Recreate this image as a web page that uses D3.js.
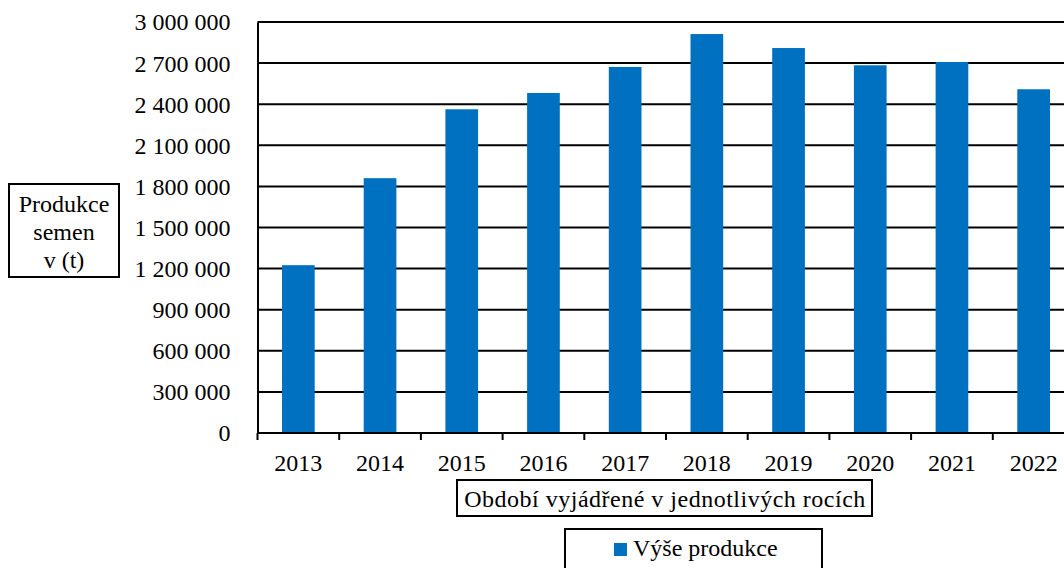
<!DOCTYPE html>
<html>
<head>
<meta charset="utf-8">
<script src="https://cdnjs.cloudflare.com/ajax/libs/d3/7.8.5/d3.min.js"></script>
<style>
  body { margin: 0; background: #fff; }
</style>
</head>
<body>
<div id="chart"></div>
<script>
// data
var years = ["2013", "2014", "2015", "2016", "2017", "2018", "2019", "2020", "2021", "2022"];
var production = [1225000, 1860000, 2363000, 2482000, 2672000, 2912000, 2810000, 2684000, 2708000, 2509000];
var yTicks = [0, 300000, 600000, 900000, 1200000, 1500000, 1800000, 2100000, 2400000, 2700000, 3000000];
var yLabel = ["Produkce", "semen", "v (t)"];
var xTitle = "Období vyjádřené v jednotlivých rocích";
var seriesName = "Výše produkce";

var svgWidth = 1064;
var svgHeight = 568;
var plot = {left: 257.5, top: 22, bottom: 433, right: 1074.5};
var barColor = "#0070C0";
var fontSize = 24;
var serif = "'Liberation Serif', 'Times New Roman', serif";

var svg = d3.select("#chart")
  .append("svg")
  .attr("width", svgWidth)
  .attr("height", svgHeight)
  .style("font-family", serif);

// scales
var x = d3.scaleBand()
  .domain(years)
  .range([plot.left, plot.right])
  .paddingInner(0.6)
  .paddingOuter(0.3);

var yScale = d3.scaleLinear()
  .domain([0, 3000000])
  .range([plot.bottom, plot.top]);

function fmt(v) {
  return d3.format(",")(v).replace(/,/g, " ");
}

// small helper so every label gets the same serif font
function label(sel) {
  return sel.style("font-family", serif)
    .style("font-size", fontSize + "px")
    .attr("fill", "#000");
}

// gridlines
svg.append("g")
  .selectAll("line")
  .data(yTicks.filter(d => d > 0))
  .enter()
  .append("line")
  .attr("x1", plot.left)
  .attr("x2", svgWidth)
  .attr("y1", d => yScale(d))
  .attr("y2", d => yScale(d))
  .attr("stroke", "#000")
  .attr("stroke-width", 2);

// bars
svg.append("g")
  .selectAll("rect")
  .data(production)
  .enter()
  .append("rect")
  .attr("x", (d, i) => x(years[i]))
  .attr("y", d => yScale(d))
  .attr("width", x.bandwidth())
  .attr("height", d => yScale(0) - yScale(d))
  .attr("fill", barColor);

// y axis (no tick marks, only labels)
var leftAxis = d3.axisLeft(yScale)
  .tickValues(yTicks)
  .tickSize(0)
  .tickPadding(27)
  .tickFormat(fmt);

var yAxisG = svg.append("g")
  .attr("transform", `translate(${plot.left}, 0)`)
  .call(leftAxis);
yAxisG.select(".domain").attr("stroke", "#000").attr("stroke-width", 2);
label(yAxisG.selectAll("text")).attr("dy", "0.33em");

// x axis: line, ticks at category boundaries, labels in the middle
svg.append("line")
  .attr("x1", plot.left)
  .attr("x2", svgWidth)
  .attr("y1", plot.bottom)
  .attr("y2", plot.bottom)
  .attr("stroke", "#000")
  .attr("stroke-width", 2);

var step = x.step();
svg.append("g")
  .selectAll("line")
  .data(years)
  .enter()
  .append("line")
  .attr("x1", (d, i) => plot.left + i * step)
  .attr("x2", (d, i) => plot.left + i * step)
  .attr("y1", plot.bottom)
  .attr("y2", plot.bottom + 7)
  .attr("stroke", "#000")
  .attr("stroke-width", 2);

label(svg.append("g")
  .selectAll("text")
  .data(years)
  .enter()
  .append("text")
  .attr("x", d => x(d) + x.bandwidth() / 2)
  .attr("y", 471)
  .attr("text-anchor", "middle")
  .text(d => d));

// y axis title box
svg.append("rect")
  .attr("x", 9)
  .attr("y", 184)
  .attr("width", 110)
  .attr("height", 93)
  .attr("fill", "#fff")
  .attr("stroke", "#000")
  .attr("stroke-width", 2);

label(svg.append("g")
  .selectAll("text")
  .data(yLabel)
  .enter()
  .append("text")
  .attr("x", 64)
  .attr("y", (d, i) => 212 + i * 28)
  .attr("text-anchor", "middle")
  .text(d => d));

// x axis title box
svg.append("rect")
  .attr("x", 457)
  .attr("y", 480)
  .attr("width", 415)
  .attr("height", 36)
  .attr("fill", "#fff")
  .attr("stroke", "#000")
  .attr("stroke-width", 2);

label(svg.append("text")
  .attr("x", 665)
  .attr("y", 507)
  .attr("text-anchor", "middle")
  .style("letter-spacing", "0.5px")
  .text(xTitle));

// legend
svg.append("rect")
  .attr("x", 565)
  .attr("y", 529)
  .attr("width", 257)
  .attr("height", 60)
  .attr("fill", "#fff")
  .attr("stroke", "#000")
  .attr("stroke-width", 2);

svg.append("rect")
  .attr("x", 614)
  .attr("y", 543)
  .attr("width", 13)
  .attr("height", 13)
  .attr("fill", barColor);

label(svg.append("text")
  .attr("x", 633)
  .attr("y", 556)
  .text(seriesName));
</script>
</body>
</html>
